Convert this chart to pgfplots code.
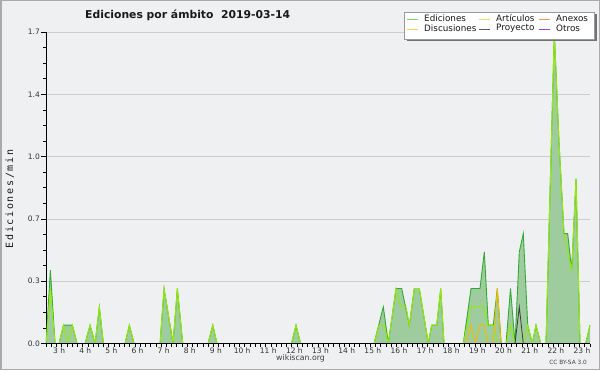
\documentclass[border=0pt]{standalone}
\usepackage{fontspec}
\setmainfont{DejaVu Sans}
\newfontfamily\monofont[LetterSpace=17]{DejaVu Sans Mono}
\usepackage{pgfplots}
\pgfplotsset{compat=1.18}
\usepackage{pgfplotstable}

\definecolor{bg}{RGB}{239,240,241}
\definecolor{framec}{RGB}{170,170,170}
\definecolor{fillg}{RGB}{158,204,158}
\definecolor{lineg}{RGB}{51,170,51}
\definecolor{artsc}{RGB}{150,235,0}
\definecolor{discc}{RGB}{240,190,0}
\definecolor{proyc}{RGB}{60,60,60}
\definecolor{legEd}{RGB}{130,210,130}
\definecolor{legArt}{RGB}{200,240,100}
\definecolor{legAnx}{RGB}{255,140,90}
\definecolor{legDisc}{RGB}{255,210,80}
\definecolor{legProy}{RGB}{90,90,90}
\definecolor{legOtr}{RGB}{150,70,230}

\pgfplotstableread{
h v
2.503 0
2.667 0.4
2.847 0
3.000 0
3.168 0.1
3.509 0.1
3.688 0
3.994 0
4.185 0.1
4.377 0
4.541 0.2
4.694 0
5.524 0
5.688 0.1
5.868 0
6.862 0
7.015 0.3
7.359 0
7.524 0.3
7.730 0
8.698 0
8.878 0.1
9.042 0
11.891 0
12.063 0.1
12.235 0
15.046 0
15.401 0.2
15.593 0
15.887 0.3
16.105 0.3
16.396 0.1
16.587 0.3
16.778 0.3
17.122 0
17.252 0.1
17.444 0.1
17.597 0.3
17.723 0
18.461 0
18.755 0.3
19.099 0.3
19.264 0.5
19.417 0.1
19.608 0.1
19.761 0.3
19.910 0
20.094 0
20.266 0.3
20.438 0
20.602 0.5
20.755 0.6
20.924 0.1
21.099 0
21.241 0.1
21.421 0
21.623 0
21.941 1.7
22.120 1.1
22.312 0.6
22.453 0.6
22.605 0.4
22.771 0.9
22.924 0
23.141 0
23.306 0.1
}\total

\pgfplotstableread{
h v
2.503 0
2.667 0.3
2.847 0
3.000 0
3.168 0.1
3.333 0
3.509 0.1
3.688 0
3.994 0
4.185 0.1
4.377 0
4.541 0.2
4.694 0
5.524 0
5.688 0.1
5.868 0
6.862 0
7.015 0.3
7.359 0
7.524 0.3
7.730 0
8.698 0
8.878 0.1
9.042 0
11.891 0
12.063 0.1
12.235 0
15.046 0
15.237 0.1
15.428 0.1
15.593 0
15.887 0.3
16.079 0.2
16.270 0.2
16.396 0.1
16.587 0.3
16.778 0.3
17.122 0
17.252 0.1
17.444 0.1
17.597 0.3
17.723 0
18.461 0
18.755 0.2
19.225 0.2
19.393 0.1
19.608 0.1
19.761 0
20.094 0
20.266 0.1
20.438 0
20.755 0
20.924 0.1
21.099 0
21.241 0.1
21.421 0
21.623 0
21.941 1.7
22.120 1.1
22.312 0.6
22.605 0.4
22.771 0.9
22.924 0
23.141 0
23.306 0.1
}\arts

\pgfplotstableread{
h v
18.552 0
18.744 0.1
18.908 0
19.099 0.1
19.252 0.1
19.405 0
19.608 0
19.761 0.3
19.902 0
}\disc

\pgfplotstableread{
h v
20.438 0
20.602 0.2
20.755 0
}\proy

\begin{document}
\begin{tikzpicture}[x=1pt,y=1pt]
\path[use as bounding box] (0,0) rectangle (600,370);
\fill[bg] (0,0) rectangle (600,370);
\draw[framec, line width=1.5pt] (0.75,0.75) rectangle (599.25,369.25);
\begin{axis}[
  at={(46pt,26.5pt)}, anchor=south west,
  scale only axis, width=544pt, height=311.5pt,
  xmin=2.5, xmax=23.306, ymin=0, ymax=1.7,
  axis lines=left, axis line style={-, black, line width=0.8pt},
  ytick={0,0.34,0.68,1.02,1.36,1.7},
  yticklabels={0.0,0.3,0.7,1.0,1.4,1.7},
  minor y tick num=3,
  ymajorgrids, major grid style={color=black!20, line width=0.6pt},
  xtick={3,...,23},
  xticklabels={3 h,4 h,5 h,6 h,7 h,8 h,9 h,10 h,11 h,12 h,13 h,14 h,15 h,16 h,17 h,18 h,19 h,20 h,21 h,22 h,23 h},
  minor xtick={2.5,2.7,...,23.3},
  tick align=outside,
  major tick length=5pt, minor tick length=3pt,
  major x tick style={draw=none},
  tick style={black, line width=0.6pt},
  tick label style={font=\fontsize{7.5}{9}\selectfont, text=black!80},
  xticklabel style={inner sep=0pt, anchor=north, yshift=1pt},
  yticklabel style={inner sep=0pt, xshift=-1pt},
]
\addplot[fill=fillg, draw=none] table {\total} \closedcycle;
\addplot[lineg, line width=0.9pt] table {\total};
\addplot[artsc, line width=0.9pt] table {\arts};
\addplot[discc, line width=0.9pt] table {\disc};
\addplot[proyc, line width=0.8pt] table {\proy};
\draw[black, line width=0.8pt] (rel axis cs:0,0) -- (rel axis cs:1,0);
\end{axis}
% legend
\fill[black!55] (406.5,328.5) rectangle (596.5,355.5);
\draw[black!40, fill=white, line width=0.5pt] (404,331) rectangle (594,358);
\begin{scope}[line width=0.8pt]
\draw[legEd] (407,351) -- (418,351);
\draw[legArt] (479,351) -- (490,351);
\draw[legAnx] (539,351) -- (550,351);
\draw[legDisc] (407,341) -- (418,341);
\draw[legProy] (479,341) -- (490,341);
\draw[legOtr] (539,341) -- (550,341);
\end{scope}
\begin{scope}[every node/.style={anchor=base west, inner sep=0pt, font=\fontsize{8.8}{10}\selectfont, text=black!90}]
\node at (424,348) {Ediciones};
\node at (496,348) {Artículos};
\node at (556,348) {Anexos};
\node at (424,338) {Discusiones};
\node at (496,339.5) {Proyecto};
\node at (556,338) {Otros};
\end{scope}
\node[anchor=base west, font=\bfseries\fontsize{10.8}{12}\selectfont, text=black!90, inner sep=0pt] at (85,351.7) {Ediciones por ámbito\ \ 2019-03-14};
\node[rotate=90, font=\monofont\fontsize{10}{12}\selectfont, text=black!90] at (9.7,171) {Ediciones/min};
\node[anchor=base, font=\fontsize{7.8}{9}\selectfont, text=black!75, inner sep=0pt] at (300.5,9.3) {wikiscan.org};
\node[anchor=base east, font=\fontsize{5.8}{7}\selectfont, text=black!75, inner sep=0pt] at (587,5.7) {CC BY-SA 3.0};
\end{tikzpicture}
\end{document}
